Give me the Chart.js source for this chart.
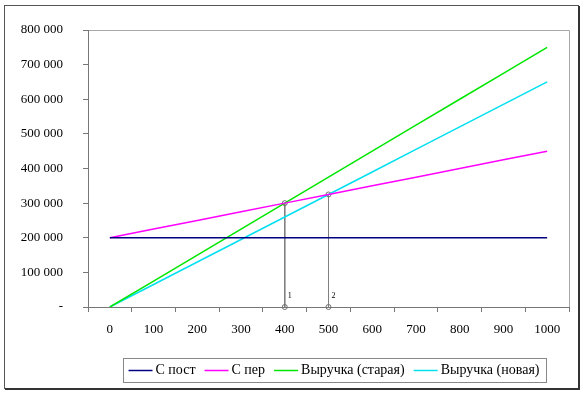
<!DOCTYPE html>
<html>
<head>
<meta charset="utf-8">
<script src="https://cdn.jsdelivr.net/npm/chart.js@4/dist/chart.umd.min.js"></script>
<style>
  body { margin: 0; background: #fff; }
  #wrap { position: relative; width: 586px; height: 396px; }
</style>
</head>
<body>
<div id="wrap"><canvas id="chart" width="586" height="396"></canvas></div>
<script>
// data
const categories = ['0', '100', '200', '300', '400', '500', '600', '700', '800', '900', '1000'];
const fixedCost = [200000, 200000, 200000, 200000, 200000, 200000, 200000, 200000, 200000, 200000, 200000];
const varCost = [200000, 225000, 250000, 275000, 300000, 325000, 350000, 375000, 400000, 425000, 450000];
const revenueOld = [0, 75000, 150000, 225000, 300000, 375000, 450000, 525000, 600000, 675000, 750000];
const revenueNew = [0, 65000, 130000, 195000, 260000, 325000, 390000, 455000, 520000, 585000, 650000];
const seriesNames = ['С пост', 'С пер', 'Выручка (старая)', 'Выручка (новая)'];
const seriesColors = ['#000080', '#ff00ff', '#00e600', '#00e0f0'];

// break-even drop lines
const dropCats = ['400', '500'];
const dropTops = [300000, 325000];
const dropLabels = ['1', '2'];

const serif = '"Liberation Serif", "Times New Roman", serif';

function fmt(v) {
    if (v === 0) return '-';
    return String(v).replace(/\B(?=(\d{3})+(?!\d))/g, ' ');
}

const datasets = [fixedCost, varCost, revenueOld, revenueNew].map((d, i) => ({
    label: seriesNames[i],
    data: d,
    borderColor: seriesColors[i],
    backgroundColor: seriesColors[i],
    borderWidth: 1.5,
    pointRadius: 0,
    tension: 0
}));

dropCats.forEach((c, i) => {
    datasets.push({
        label: 'drop' + dropLabels[i],
        isDrop: true,
        dropText: dropLabels[i],
        data: [{x: c, y: dropTops[i]}, {x: c, y: 0}],
        borderColor: '#808080',
        borderWidth: 1,
        pointRadius: 2.5,
        pointBorderColor: '#707070',
        pointBackgroundColor: 'rgba(255,255,255,0)',
        pointBorderWidth: 1,
        clip: false
    });
});

// frame, plot box and custom legend
const decor = {
    id: 'decor',
    beforeDraw(chart) {
        const ctx = chart.ctx;
        ctx.save();
        ctx.fillStyle = '#fff';
        ctx.fillRect(0, 0, chart.width, chart.height);
        // outer frame
        ctx.strokeStyle = '#555';
        ctx.lineWidth = 1;
        ctx.strokeRect(4.5, 5.5, 574, 383);
        ctx.fillStyle = '#333';
        ctx.fillRect(578, 6, 2, 384);
        ctx.fillRect(5, 388, 575, 2);
        // plot area top/right edges
        const a = chart.chartArea;
        ctx.strokeStyle = '#a8a8a8';
        ctx.beginPath();
        ctx.moveTo(a.left, Math.round(a.top) + 0.5);
        ctx.lineTo(Math.round(a.right) + 0.5, Math.round(a.top) + 0.5);
        ctx.lineTo(Math.round(a.right) + 0.5, a.bottom);
        ctx.stroke();
        ctx.restore();
    },
    afterDraw(chart) {
        const ctx = chart.ctx;
        const xs = chart.scales.x, ys = chart.scales.y;
        ctx.save();
        // drop line numbers
        ctx.font = '8px ' + serif;
        ctx.fillStyle = '#000';
        ctx.textBaseline = 'middle';
        chart.data.datasets.forEach(ds => {
            if (!ds.isDrop) return;
            const px = xs.getPixelForValue(categories.indexOf(ds.data[1].x));
            ctx.fillText(ds.dropText, px + 3, ys.getPixelForValue(0) - 11);
        });
        // legend
        ctx.font = '14px ' + serif;
        const lineLen = 24, gap = 3, itemGap = 9;
        const items = chart.data.datasets.filter(d => !d.isDrop);
        let total = 0;
        items.forEach((d, i) => {
            total += lineLen + gap + ctx.measureText(d.label).width + (i < items.length - 1 ? itemGap : 0);
        });
        const cx = 334, top = 358, h = 24;
        let x = cx - total / 2;
        ctx.strokeStyle = '#888';
        ctx.lineWidth = 1;
        ctx.strokeRect(Math.round(x - 6) + 0.5, top + 0.5, Math.round(total + 12), h);
        const ly = top + h / 2 + 0.5;
        items.forEach(d => {
            ctx.strokeStyle = d.borderColor;
            ctx.lineWidth = 1.5;
            ctx.beginPath();
            ctx.moveTo(x, ly);
            ctx.lineTo(x + lineLen, ly);
            ctx.stroke();
            x += lineLen + gap;
            ctx.fillStyle = '#000';
            ctx.fillText(d.label, x, ly);
            x += ctx.measureText(d.label).width + itemGap;
        });
        ctx.restore();
    }
};

new Chart(document.getElementById('chart'), {
    type: 'line',
    data: {
        labels: categories,
        datasets: datasets
    },
    options: {
        responsive: false,
        animation: false,
        layout: {
            padding: {left: 0, top: 30, right: 17, bottom: 0}
        },
        scales: {
            x: {
                offset: true,
                grid: {
                    offset: true,
                    drawOnChartArea: false,
                    tickLength: 5,
                    color: '#777'
                },
                border: {color: '#777', width: 1},
                ticks: {
                    color: '#000',
                    font: {family: serif, size: 13},
                    padding: 10,
                    maxRotation: 0,
                    autoSkip: false
                },
                afterFit(scale) { scale.height = 89; }
            },
            y: {
                min: 0,
                max: 800000,
                grid: {
                    drawOnChartArea: false,
                    tickLength: 5,
                    color: '#777'
                },
                border: {color: '#777', width: 1},
                ticks: {
                    stepSize: 100000,
                    color: '#000',
                    font: {family: serif, size: 13},
                    padding: 20,
                    callback: v => fmt(v)
                },
                afterFit(scale) { scale.width = 88; }
            }
        },
        plugins: {
            legend: {display: false},
            tooltip: {enabled: false}
        }
    },
    plugins: [decor]
});
</script>
</body>
</html>
